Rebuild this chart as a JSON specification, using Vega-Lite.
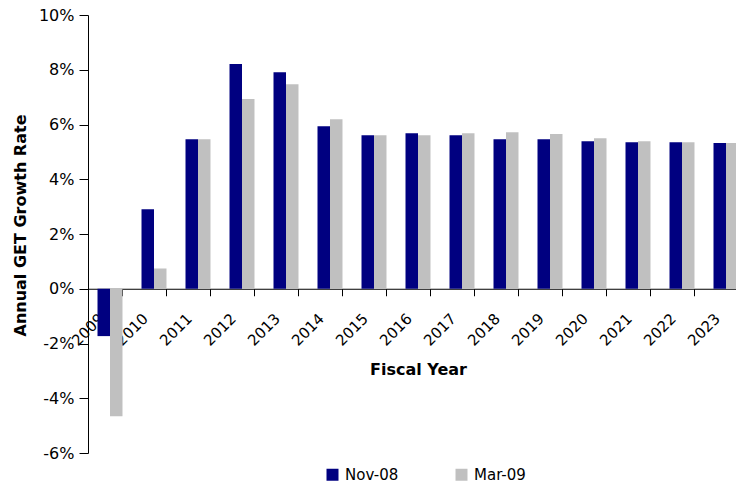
{
  "$schema": "https://vega.github.io/schema/vega-lite/v6.json",
  "autosize": {"type": "none"},
  "width": 648,
  "height": 438,
  "padding": {"left": 88, "top": 15, "right": 0, "bottom": 32},
  "config": {
    "view": {"stroke": null},
    "font": "DejaVu Sans",
    "axis": {"grid": false, "domainColor": "#000000", "tickColor": "#000000", "labelColor": "#000000", "titleColor": "#000000", "domainWidth": 1, "tickWidth": 1}
  },
  "data": {
    "values": [
      {"year": "2009", "series": "Nov-08", "value": -1.73},
      {"year": "2009", "series": "Mar-09", "value": -4.66},
      {"year": "2010", "series": "Nov-08", "value": 2.90},
      {"year": "2010", "series": "Mar-09", "value": 0.74},
      {"year": "2011", "series": "Nov-08", "value": 5.46},
      {"year": "2011", "series": "Mar-09", "value": 5.46},
      {"year": "2012", "series": "Nov-08", "value": 8.21},
      {"year": "2012", "series": "Mar-09", "value": 6.93},
      {"year": "2013", "series": "Nov-08", "value": 7.91},
      {"year": "2013", "series": "Mar-09", "value": 7.47},
      {"year": "2014", "series": "Nov-08", "value": 5.94},
      {"year": "2014", "series": "Mar-09", "value": 6.19},
      {"year": "2015", "series": "Nov-08", "value": 5.61},
      {"year": "2015", "series": "Mar-09", "value": 5.61},
      {"year": "2016", "series": "Nov-08", "value": 5.68},
      {"year": "2016", "series": "Mar-09", "value": 5.61},
      {"year": "2017", "series": "Nov-08", "value": 5.61},
      {"year": "2017", "series": "Mar-09", "value": 5.68},
      {"year": "2018", "series": "Nov-08", "value": 5.46},
      {"year": "2018", "series": "Mar-09", "value": 5.72},
      {"year": "2019", "series": "Nov-08", "value": 5.46},
      {"year": "2019", "series": "Mar-09", "value": 5.65},
      {"year": "2020", "series": "Nov-08", "value": 5.39},
      {"year": "2020", "series": "Mar-09", "value": 5.50},
      {"year": "2021", "series": "Nov-08", "value": 5.35},
      {"year": "2021", "series": "Mar-09", "value": 5.39},
      {"year": "2022", "series": "Nov-08", "value": 5.35},
      {"year": "2022", "series": "Mar-09", "value": 5.35},
      {"year": "2023", "series": "Nov-08", "value": 5.32},
      {"year": "2023", "series": "Mar-09", "value": 5.32}
    ]
  },
  "mark": {"type": "bar"},
  "encoding": {
    "x": {
      "field": "year",
      "type": "nominal",
      "sort": null,
      "scale": {"range": [0, 660], "paddingInner": 0.432, "paddingOuter": 0.216},
      "axis": {
        "title": "Fiscal Year",
        "titleFontSize": 16,
        "titleFontWeight": "bold",
        "titlePadding": 13,
        "labelAngle": -45,
        "labelAlign": "right",
        "labelBaseline": "middle",
        "labelFontSize": 15,
        "labelPadding": 20,
        "labelOffset": -9,
        "labelOverlap": false,
        "tickBand": "extent",
        "tickSize": 7,
        "offset": -164.25
      }
    },
    "xOffset": {"field": "series", "type": "nominal", "sort": ["Nov-08", "Mar-09"]},
    "y": {
      "field": "value",
      "type": "quantitative",
      "scale": {"domain": [-6, 10], "nice": false},
      "axis": {
        "title": "Annual GET Growth Rate",
        "titleFontSize": 16,
        "titleFontWeight": "bold",
        "titlePadding": 10,
        "titleY": 210,
        "values": [-6, -4, -2, 0, 2, 4, 6, 8, 10],
        "labelExpr": "datum.value + '%'",
        "labelFontSize": 16,
        "labelPadding": 5,
        "tickSize": 9
      }
    },
    "color": {
      "field": "series",
      "type": "nominal",
      "scale": {"domain": ["Nov-08", "Mar-09"], "range": ["#000080", "#C0C0C0"]},
      "legend": {
        "orient": "none",
        "legendX": 237,
        "legendY": 452,
        "direction": "horizontal",
        "title": null,
        "symbolType": "square",
        "symbolSize": 144,
        "symbolStrokeWidth": 0,
        "labelFontSize": 15,
        "labelOffset": 5,
        "columnPadding": 55,
        "labelColor": "#000000"
      }
    }
  }
}
